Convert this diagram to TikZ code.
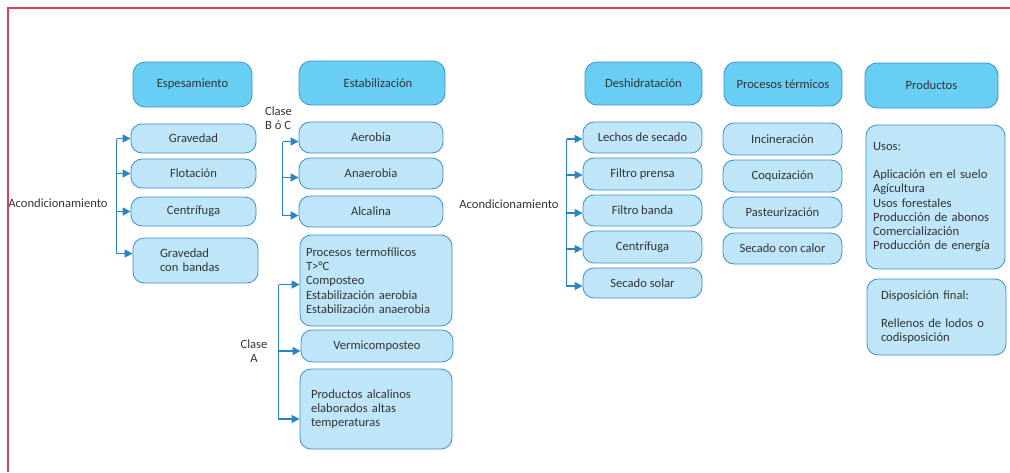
\documentclass[tikz,border=0pt]{standalone}
\usepackage{fontspec}
\setmainfont{Carlito}
\usetikzlibrary{arrows.meta}

\definecolor{azulborde}{HTML}{3E8FCB}
\definecolor{azultitulo}{HTML}{68CEF4}
\definecolor{azulcaja}{HTML}{BEE6F8}
\definecolor{azulflecha}{HTML}{2B85C5}
\definecolor{texto}{HTML}{333333}
\definecolor{rojomarco}{HTML}{D8405C}

\tikzset{
	titulo/.style={draw=azulborde, fill=azultitulo, line width=0.8pt, rounded corners=12pt, text=texto, inner sep=0pt},
	caja/.style={draw=azulborde, fill=azulcaja, line width=0.8pt, rounded corners=11pt, text=texto, inner sep=0pt},
	flecha/.style={azulflecha, line width=1.5pt, -{Triangle[length=8pt,width=8pt]}},
	etiqueta/.style={text=texto, inner sep=0pt}
}

\begin{document}
\begin{tikzpicture}[x=1pt, y=-1pt, font=\fontsize{12.6}{14.2}\selectfont]
	\useasboundingbox (0,0) rectangle (1010,472);

	% Espesamiento
	\node[titulo, minimum width=119, minimum height=45] (esp) at (192.5,84.5) {Espesamiento};
	\node[caja, minimum width=125, minimum height=29] (grav) at (193.5,138.5) {Gravedad};
	\node[caja, minimum width=125, minimum height=29] (flot) at (193.5,173.5) {Flotación};
	\node[caja, minimum width=125, minimum height=29] (cen1) at (193.5,211.5) {Centrífuga};
	\node[caja, minimum width=125, minimum height=45, text width=71, inner xsep=27, align=left] (gcb) at (195.5,260.5) {Gravedad\\con bandas};
	\node[etiqueta] (acon1) at (58,203) {Acondicionamiento};
	\coordinate (r1) at ([xshift=-14pt]grav.west);
	\draw[flecha] (r1) |- (grav.west);
	\draw[flecha] (r1) |- (flot.west);
	\draw[flecha] (r1) |- (cen1.west);
	\draw[flecha] (r1) |- ([yshift=7pt]gcb.west);

	% Estabilizacion, clase B o C
	\node[titulo, minimum width=146, minimum height=44] (est) at (372,83) {\hspace{12pt}Estabilización};
	\node[caja, minimum width=144, minimum height=31] (aer) at (371,137.5) {Aerobia};
	\node[caja, minimum width=144, minimum height=31] (ana) at (371,173.5) {Anaerobia};
	\node[caja, minimum width=144, minimum height=31] (alc) at (371,211.5) {Alcalina};
	\node[etiqueta, align=left] (clasebc) at (278.5,118.5) {Clase\\B ó C};
	\coordinate (r2) at ([xshift=-16pt,yshift=-4pt]aer.west);
	\draw[flecha] (r2) |- ([yshift=-4pt]aer.west);
	\draw[flecha] (r2) |- ([yshift=-4pt]ana.west);
	\draw[flecha] (r2) |- ([yshift=-4pt]alc.west);

	% Estabilizacion, clase A
	\node[caja, minimum width=152, minimum height=91, text width=140, inner xsep=6, align=left] (termo) at (376,280.5) {Procesos termofílicos\\T>°C\\Composteo\\Estabilización aerobia\\Estabilización anaerobia};
	\node[caja, minimum width=152, minimum height=32] (verm) at (377,346) {Vermicomposteo};
	\node[caja, minimum width=152, minimum height=80, text width=130, inner xsep=11, align=left] (palc) at (376,409) {Productos alcalinos\\elaborados altas\\temperaturas};
	\node[etiqueta, align=center] (clasea) at (254,351) {Clase\\A};
	\coordinate (r3) at ([xshift=-21pt,yshift=-4pt]termo.west);
	\draw[flecha] (r3) |- ([yshift=-4pt]termo.west);
	\draw[flecha] (r3) |- ([yshift=-5pt]verm.west);
	\draw[flecha] (r3) |- ([yshift=-10pt]palc.west);

	% Deshidratacion
	\node[titulo, minimum width=117, minimum height=43] (des) at (643.5,83.5) {Deshidratación};
	\node[caja, minimum width=119, minimum height=31] (lech) at (642.5,137.5) {Lechos de secado};
	\node[caja, minimum width=119, minimum height=32] (fpre) at (642.5,174) {Filtro prensa};
	\node[caja, minimum width=119, minimum height=31] (fban) at (642.5,210.5) {Filtro banda};
	\node[caja, minimum width=119, minimum height=32] (cen2) at (642.5,247) {Centrífuga};
	\node[caja, minimum width=119, minimum height=30] (ssol) at (642.5,283) {Secado solar};
	\node[etiqueta] (acon2) at (509,204) {Acondicionamiento};
	\coordinate (r4) at ([xshift=-16pt,yshift=-1.5pt]lech.west);
	\draw[flecha] (r4) |- ([yshift=-1.5pt]lech.west);
	\draw[flecha] (r4) |- ([yshift=-1pt]fpre.west);
	\draw[flecha] (r4) |- ([yshift=-2.5pt]fban.west);
	\draw[flecha] (r4) |- ([yshift=-2pt]cen2.west);
	\draw[flecha] (r4) |- ([yshift=-3pt]ssol.west);

	% Procesos termicos
	\node[titulo, minimum width=118, minimum height=44] (ptm) at (783,84) {Procesos térmicos};
	\node[caja, minimum width=119, minimum height=32] (inc) at (782.5,139) {Incineración};
	\node[caja, minimum width=119, minimum height=32] (coq) at (782.5,176) {Coquización};
	\node[caja, minimum width=119, minimum height=31] (pas) at (782.5,212.5) {Pasteurización};
	\node[caja, minimum width=119, minimum height=31] (sec) at (782.5,248.5) {Secado con calor};

	% Productos
	\node[titulo, minimum width=133, minimum height=45] (prod) at (931.5,85.5) {Productos};
	\node[caja, minimum width=139, minimum height=144, text width=125, inner xsep=7, align=left] (usos) at (935.5,197) {Usos:\\[14.2pt]Aplicación en el suelo\\Agícultura\\Usos forestales\\Producción de abonos\\Comercialización\\Producción de energía};
	\node[caja, minimum width=139, minimum height=76, text width=111, inner xsep=14, align=left] (disp) at (936.5,317) {Disposición final:\\[14.2pt]Rellenos de lodos o\\codisposición};

	% Rahmen
	\draw[rojomarco, line width=1.6pt] (1010,8) -- (8,8) -- (8,472);
\end{tikzpicture}
\end{document}
